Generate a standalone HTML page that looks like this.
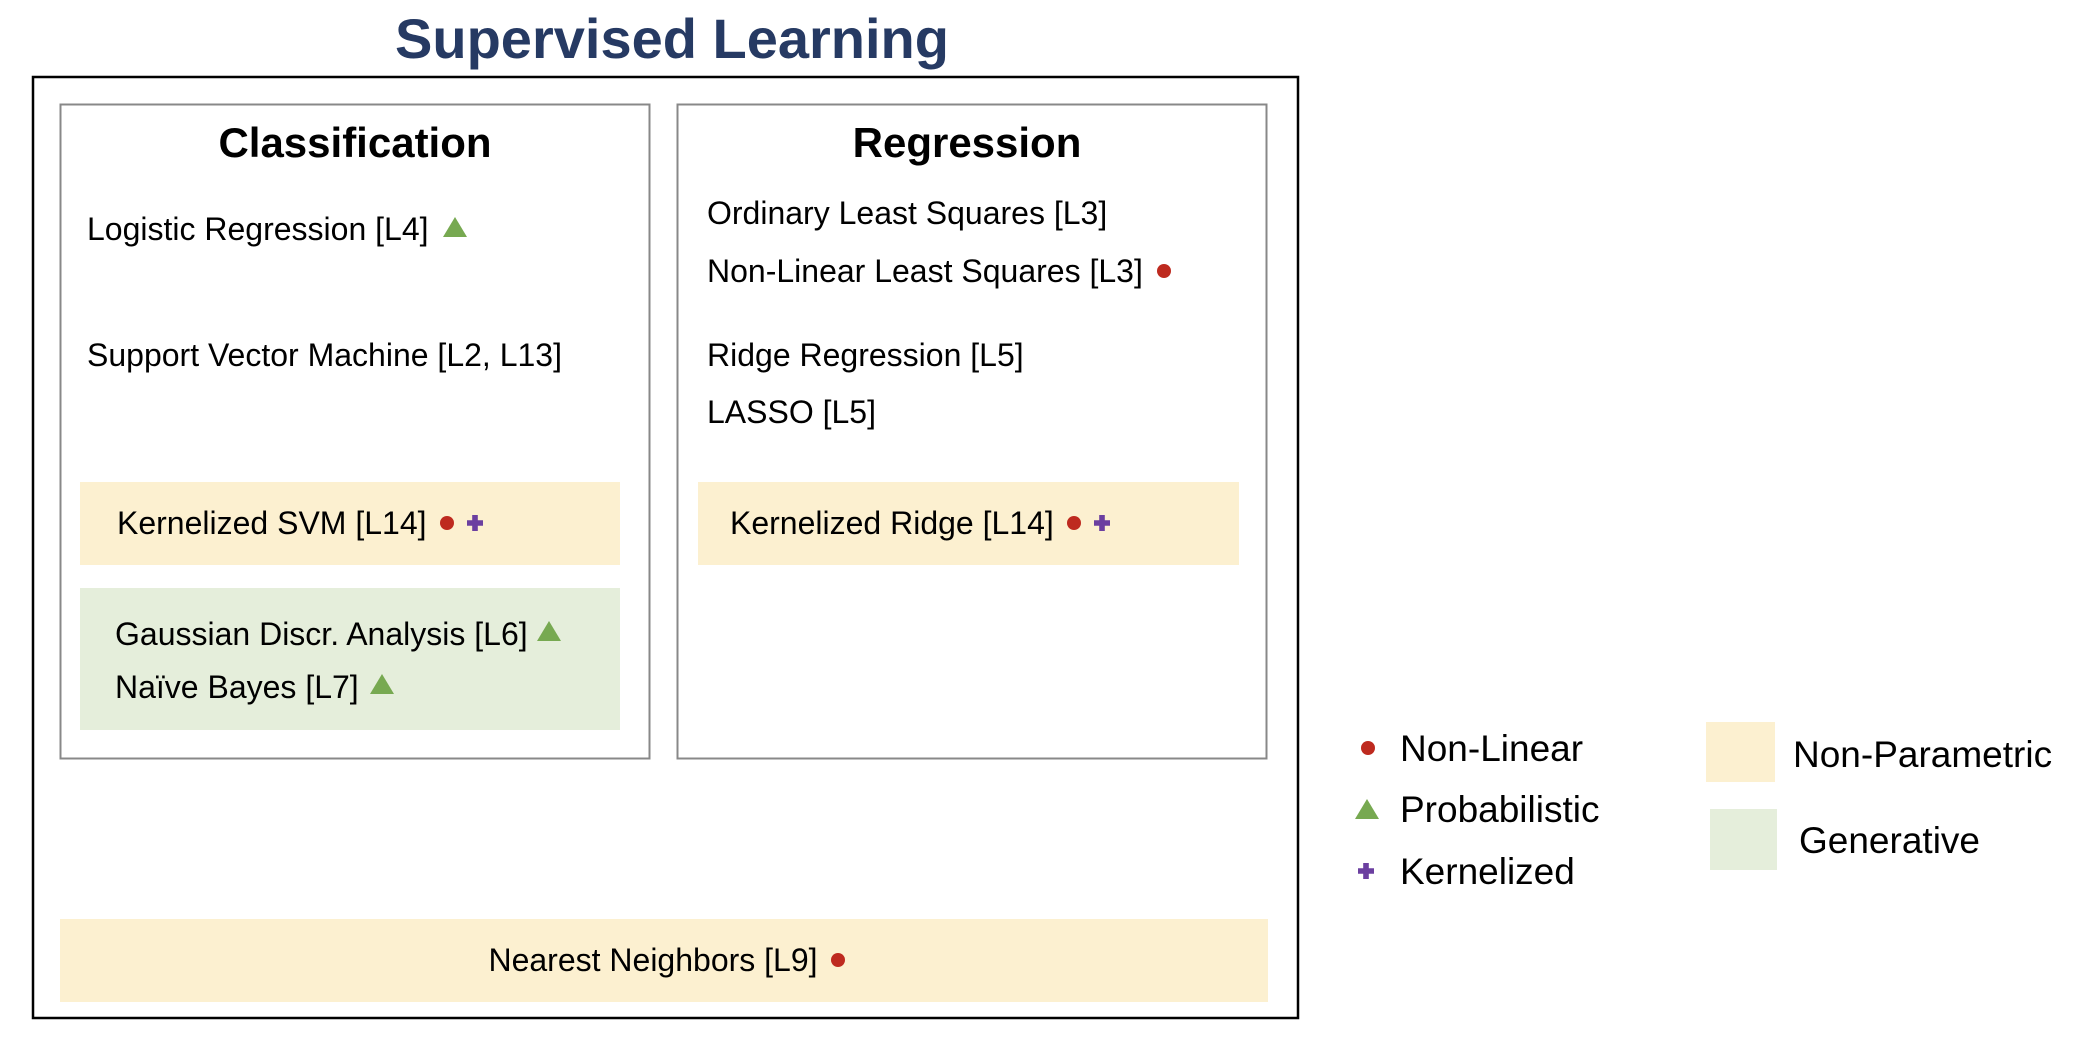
<!DOCTYPE html>
<html><head><meta charset="utf-8"><style>
html,body{margin:0;padding:0;background:#fff;}
svg{display:block;font-family:"Liberation Sans",Arial,sans-serif;}
</style></head><body>
<svg width="2086" height="1040" viewBox="0 0 2086 1040" xmlns="http://www.w3.org/2000/svg">
<defs>
<g id="tri"><polygon points="-12,10 12,10 0,-10" fill="#77a951"/></g>
<g id="dot"><circle r="7" fill="#be2a1f"/></g>
<g id="plus"><path d="M-2.8,-8 H2.8 V-2.8 H8 V2.8 H2.8 V8 H-2.8 V2.8 H-8 V-2.8 H-2.8 Z" fill="#6b3fa0"/></g>
</defs>
<text x="672" y="58" text-anchor="middle" font-size="56" font-weight="bold" fill="#263a63">Supervised Learning</text>
<rect x="33" y="77" width="1265" height="941" fill="none" stroke="#000" stroke-width="2.5"/>
<rect x="60.5" y="104.5" width="589" height="654" fill="none" stroke="#888" stroke-width="2"/>
<rect x="677.5" y="104.5" width="589" height="654" fill="none" stroke="#888" stroke-width="2"/>
<text x="355" y="157" text-anchor="middle" font-size="42" font-weight="bold">Classification</text>
<text x="967" y="157" text-anchor="middle" font-size="42" font-weight="bold">Regression</text>
<g font-size="32" fill="#000">
<text x="87" y="240">Logistic Regression [L4]</text>
<use href="#tri" x="455" y="227"/>
<text x="87" y="366">Support Vector Machine [L2, L13]</text>
<rect x="80" y="482" width="540" height="83" fill="#fcf0d0"/>
<text x="117" y="534">Kernelized SVM [L14]</text>
<use href="#dot" x="447" y="523"/><use href="#plus" x="475" y="523"/>
<rect x="80" y="588" width="540" height="142" fill="#e5eedb"/>
<text x="115" y="645">Gaussian Discr. Analysis [L6]</text>
<use href="#tri" x="549" y="631"/>
<text x="115" y="698">Naïve Bayes [L7]</text>
<use href="#tri" x="382" y="684"/>
<text x="707" y="224">Ordinary Least Squares [L3]</text>
<text x="707" y="282">Non-Linear Least Squares [L3]</text>
<use href="#dot" x="1164" y="271"/>
<text x="707" y="366">Ridge Regression [L5]</text>
<text x="707" y="423">LASSO [L5]</text>
<rect x="698" y="482" width="541" height="83" fill="#fcf0d0"/>
<text x="730" y="534">Kernelized Ridge [L14]</text>
<use href="#dot" x="1074" y="523"/><use href="#plus" x="1102" y="523"/>
<rect x="60" y="919" width="1208" height="83" fill="#fcf0d0"/>
<text x="653" y="971" text-anchor="middle">Nearest Neighbors [L9]</text>
<use href="#dot" x="838" y="960"/>
</g>
<g font-size="37" fill="#000">
<use href="#dot" x="1368" y="748"/>
<text x="1400" y="761">Non-Linear</text>
<use href="#tri" x="1367" y="809"/>
<text x="1400" y="822">Probabilistic</text>
<use href="#plus" x="1366" y="871"/>
<text x="1400" y="884">Kernelized</text>
<rect x="1706" y="722" width="69" height="60" fill="#fcf0d0"/>
<text x="1793" y="767">Non-Parametric</text>
<rect x="1710" y="809" width="67" height="61" fill="#e5eedb"/>
<text x="1799" y="853">Generative</text>
</g>
</svg>
</body></html>
